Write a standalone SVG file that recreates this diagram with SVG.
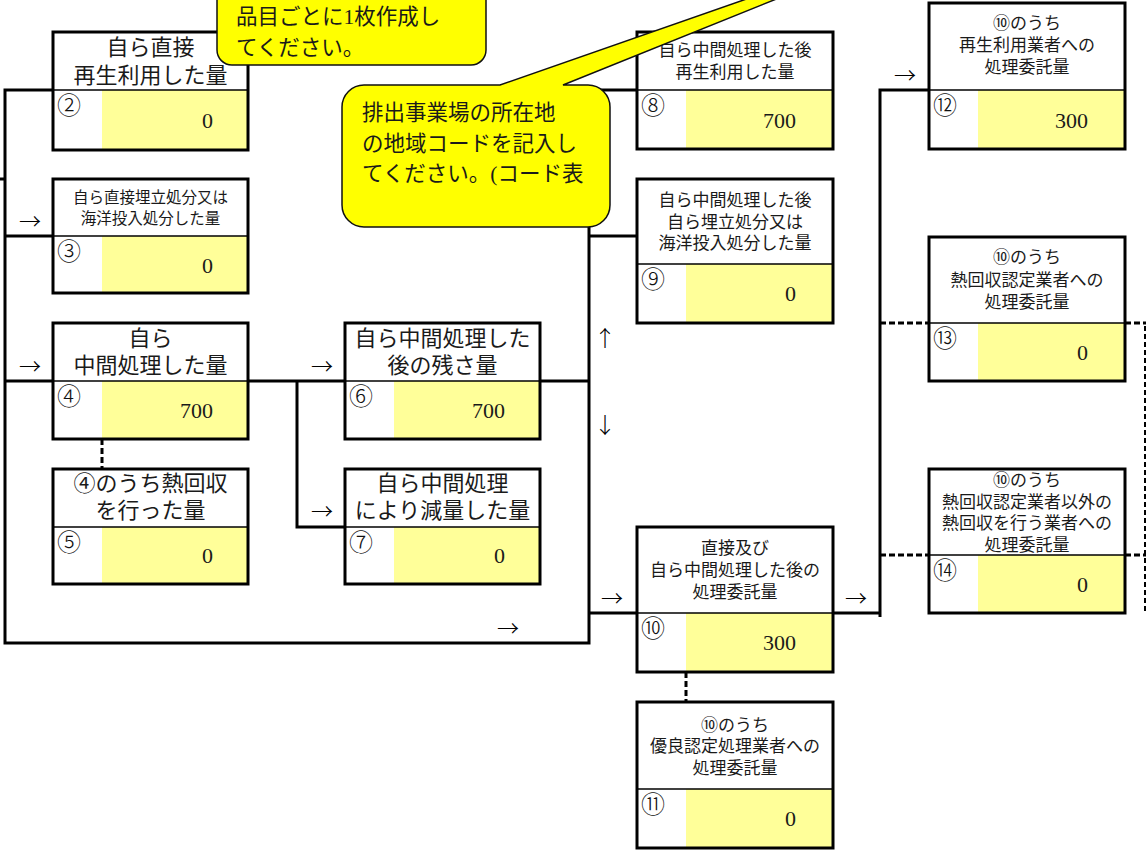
<svg xmlns="http://www.w3.org/2000/svg" width="1146" height="851" viewBox="0 0 1146 851">
<style>
.bg{fill:#fff}
.box{fill:none;stroke:#000;stroke-width:3}
.yl{fill:#ffff99}
.dv{stroke:#000;stroke-width:1.5}
.t{font-family:"Liberation Serif","Noto Sans CJK JP",serif;fill:#1a1a1a}
.ttl{font-size:22px;text-anchor:middle}
.sm{font-size:17px;text-anchor:middle}
.xs{font-size:15.5px;text-anchor:middle}
.num{font-family:"Noto Sans CJK JP",sans-serif;font-size:24px;font-weight:300;fill:#111}
.val{font-size:22px;text-anchor:end}
.ln{stroke:#000;stroke-width:3;fill:none}
.dash{stroke:#000;stroke-width:3;stroke-dasharray:6 3;fill:none}
.vdash{stroke:#000;stroke-width:2;stroke-dasharray:5 3;fill:none}
.arr{font-family:"Noto Sans CJK JP",sans-serif;font-size:22px;font-weight:300;text-anchor:middle;fill:#000}
.co{fill:#ffff00;stroke:#111;stroke-width:1.5}
.cot{font-size:21.5px}
</style>
<rect width="1146" height="851" fill="#fff"/>

<g id="connectors">
  <polyline class="ln" points="53,90 5,90 5,643 589,643 589,90 637,90"/>
  <line class="ln" x1="0" y1="179" x2="5" y2="179"/>
  <line class="ln" x1="5" y1="236" x2="53" y2="236"/>
  <line class="ln" x1="5" y1="381" x2="53" y2="381"/>
  <line class="ln" x1="248" y1="381" x2="345" y2="381"/>
  <polyline class="ln" points="297,381 297,527 345,527"/>
  <line class="ln" x1="540" y1="381" x2="589" y2="381"/>
  <line class="ln" x1="589" y1="236" x2="637" y2="236"/>
  <line class="ln" x1="589" y1="613" x2="637" y2="613"/>
  <polyline class="ln" points="833,613 880,613"/>
  <polyline class="ln" points="880,617 880,90 929,90"/>
  <line class="dash" x1="880" y1="323" x2="929" y2="323"/>
  <line class="dash" x1="1125" y1="323" x2="1146" y2="323"/>
  <line class="dash" x1="880" y1="555" x2="929" y2="555"/>
  <line class="dash" x1="1125" y1="555" x2="1146" y2="555"/>
  <line class="vdash" x1="1145" y1="326" x2="1145" y2="613"/>
  <line class="dash" x1="102" y1="439" x2="102" y2="469"/>
  <line class="dash" x1="686" y1="672" x2="686" y2="702"/>
  <g class="arr">
    <text x="30" y="229">→</text>
    <text x="30" y="374">→</text>
    <text x="322" y="374">→</text>
    <text x="322" y="519">→</text>
    <text x="508" y="636">→</text>
    <text x="612" y="606">→</text>
    <text x="856" y="606">→</text>
    <text x="905" y="83">→</text>
    <text x="605" y="346">↑</text>
    <text x="605" y="433">↓</text>
  </g>
</g>

<g id="n2">
  <rect class="bg" x="53" y="32" width="195" height="118"/>
  <rect class="yl" x="102" y="90" width="146" height="60"/>
  <line class="dv" x1="53" y1="90" x2="248" y2="90"/>
  <rect class="box" x="53" y="32" width="195" height="118"/>
  <text class="t ttl" x="150.5" y="55">自ら直接</text>
  <text class="t ttl" x="150.5" y="83">再生利用した量</text>
  <text class="num" x="57" y="114">②</text>
  <text class="t val" x="213" y="128">0</text>
</g>

<g id="n3">
  <rect class="bg" x="53" y="179" width="195" height="114"/>
  <rect class="yl" x="102" y="236" width="146" height="57"/>
  <line class="dv" x1="53" y1="236" x2="248" y2="236"/>
  <rect class="box" x="53" y="179" width="195" height="114"/>
  <text class="t xs" x="150.5" y="203">自ら直接埋立処分又は</text>
  <text class="t xs" x="150.5" y="224">海洋投入処分した量</text>
  <text class="num" x="57" y="260">③</text>
  <text class="t val" x="213" y="273">0</text>
</g>

<g id="n4">
  <rect class="bg" x="53" y="323" width="195" height="116"/>
  <rect class="yl" x="102" y="381" width="146" height="58"/>
  <line class="dv" x1="53" y1="381" x2="248" y2="381"/>
  <rect class="box" x="53" y="323" width="195" height="116"/>
  <text class="t ttl" x="150.5" y="346">自ら</text>
  <text class="t ttl" x="150.5" y="373">中間処理した量</text>
  <text class="num" x="57" y="405">④</text>
  <text class="t val" x="213" y="418">700</text>
</g>

<g id="n5">
  <rect class="bg" x="53" y="469" width="195" height="115"/>
  <rect class="yl" x="102" y="527" width="146" height="57"/>
  <line class="dv" x1="53" y1="527" x2="248" y2="527"/>
  <rect class="box" x="53" y="469" width="195" height="115"/>
  <text class="t ttl" x="150.5" y="491">④のうち熱回収</text>
  <text class="t ttl" x="150.5" y="518">を行った量</text>
  <text class="num" x="57" y="551">⑤</text>
  <text class="t val" x="213" y="563">0</text>
</g>

<g id="n6">
  <rect class="bg" x="345" y="323" width="195" height="116"/>
  <rect class="yl" x="394" y="381" width="146" height="58"/>
  <line class="dv" x1="345" y1="381" x2="540" y2="381"/>
  <rect class="box" x="345" y="323" width="195" height="116"/>
  <text class="t ttl" x="442.5" y="346">自ら中間処理した</text>
  <text class="t ttl" x="442.5" y="373">後の残さ量</text>
  <text class="num" x="349" y="405">⑥</text>
  <text class="t val" x="505" y="418">700</text>
</g>

<g id="n7">
  <rect class="bg" x="345" y="469" width="195" height="115"/>
  <rect class="yl" x="394" y="527" width="146" height="57"/>
  <line class="dv" x1="345" y1="527" x2="540" y2="527"/>
  <rect class="box" x="345" y="469" width="195" height="115"/>
  <text class="t ttl" x="442.5" y="491">自ら中間処理</text>
  <text class="t ttl" x="442.5" y="518">により減量した量</text>
  <text class="num" x="349" y="551">⑦</text>
  <text class="t val" x="505" y="563">0</text>
</g>

<g id="n8">
  <rect class="bg" x="637" y="32" width="196" height="117"/>
  <rect class="yl" x="686" y="90" width="147" height="59"/>
  <line class="dv" x1="637" y1="90" x2="833" y2="90"/>
  <rect class="box" x="637" y="32" width="196" height="117"/>
  <text class="t sm" x="735" y="56">自ら中間処理した後</text>
  <text class="t sm" x="735" y="78">再生利用した量</text>
  <text class="num" x="641" y="114">⑧</text>
  <text class="t val" x="796" y="128">700</text>
</g>

<g id="n9">
  <rect class="bg" x="637" y="179" width="196" height="144"/>
  <rect class="yl" x="686" y="264" width="147" height="59"/>
  <line class="dv" x1="637" y1="264" x2="833" y2="264"/>
  <rect class="box" x="637" y="179" width="196" height="144"/>
  <text class="t sm" x="735" y="206">自ら中間処理した後</text>
  <text class="t sm" x="735" y="228">自ら埋立処分又は</text>
  <text class="t sm" x="735" y="249">海洋投入処分した量</text>
  <text class="num" x="641" y="288">⑨</text>
  <text class="t val" x="796" y="301">0</text>
</g>

<g id="n10">
  <rect class="bg" x="637" y="527" width="196" height="145"/>
  <rect class="yl" x="686" y="613" width="147" height="59"/>
  <line class="dv" x1="637" y1="613" x2="833" y2="613"/>
  <rect class="box" x="637" y="527" width="196" height="145"/>
  <text class="t sm" x="735" y="554">直接及び</text>
  <text class="t sm" x="735" y="576">自ら中間処理した後の</text>
  <text class="t sm" x="735" y="598">処理委託量</text>
  <text class="num" x="641" y="637">⑩</text>
  <text class="t val" x="796" y="650">300</text>
</g>

<g id="n11">
  <rect class="bg" x="637" y="702" width="196" height="146"/>
  <rect class="yl" x="686" y="789" width="147" height="59"/>
  <line class="dv" x1="637" y1="789" x2="833" y2="789"/>
  <rect class="box" x="637" y="702" width="196" height="146"/>
  <text class="t sm" x="735" y="731">⑩のうち</text>
  <text class="t sm" x="735" y="752">優良認定処理業者への</text>
  <text class="t sm" x="735" y="774">処理委託量</text>
  <text class="num" x="641" y="813">⑪</text>
  <text class="t val" x="796" y="826">0</text>
</g>

<g id="n12">
  <rect class="bg" x="929" y="3" width="196" height="146"/>
  <rect class="yl" x="978" y="90" width="147" height="59"/>
  <line class="dv" x1="929" y1="90" x2="1125" y2="90"/>
  <rect class="box" x="929" y="3" width="196" height="146"/>
  <text class="t sm" x="1027" y="29">⑩のうち</text>
  <text class="t sm" x="1027" y="51">再生利用業者への</text>
  <text class="t sm" x="1027" y="73">処理委託量</text>
  <text class="num" x="933" y="114">⑫</text>
  <text class="t val" x="1088" y="128">300</text>
</g>

<g id="n13">
  <rect class="bg" x="929" y="237" width="196" height="144"/>
  <rect class="yl" x="978" y="323" width="147" height="58"/>
  <line class="dv" x1="929" y1="323" x2="1125" y2="323"/>
  <rect class="box" x="929" y="237" width="196" height="144"/>
  <text class="t sm" x="1027" y="263">⑩のうち</text>
  <text class="t sm" x="1027" y="286">熱回収認定業者への</text>
  <text class="t sm" x="1027" y="308">処理委託量</text>
  <text class="num" x="933" y="347">⑬</text>
  <text class="t val" x="1088" y="360">0</text>
</g>

<g id="n14">
  <rect class="bg" x="929" y="469" width="196" height="144"/>
  <rect class="yl" x="978" y="555" width="147" height="58"/>
  <line class="dv" x1="929" y1="555" x2="1125" y2="555"/>
  <rect class="box" x="929" y="469" width="196" height="144"/>
  <text class="t sm" x="1027" y="486">⑩のうち</text>
  <text class="t sm" x="1027" y="508">熱回収認定業者以外の</text>
  <text class="t sm" x="1027" y="529">熱回収を行う業者への</text>
  <text class="t sm" x="1027" y="551">処理委託量</text>
  <text class="num" x="933" y="579">⑭</text>
  <text class="t val" x="1088" y="592">0</text>
</g>

<g id="callout1">
  <rect class="co" x="217" y="-20" width="269" height="85" rx="15" ry="15"/>
  <text class="t cot" x="236" y="24">品目ごとに1枚作成し</text>
  <text class="t cot" x="236" y="55">てください。</text>
</g>

<g id="callout2">
  <path class="co" d="M364,85 L500,85 L970,-79 L563,85 L588,85 A22,22 0 0 1 610,107 L610,205 A22,22 0 0 1 588,227 L364,227 A22,22 0 0 1 342,205 L342,107 A22,22 0 0 1 364,85 Z"/>
  <text class="t cot" x="362" y="120">排出事業場の所在地</text>
  <text class="t cot" x="362" y="151">の地域コードを記入し</text>
  <text class="t cot" x="362" y="181">てください。(コード表</text>
</g>
</svg>
